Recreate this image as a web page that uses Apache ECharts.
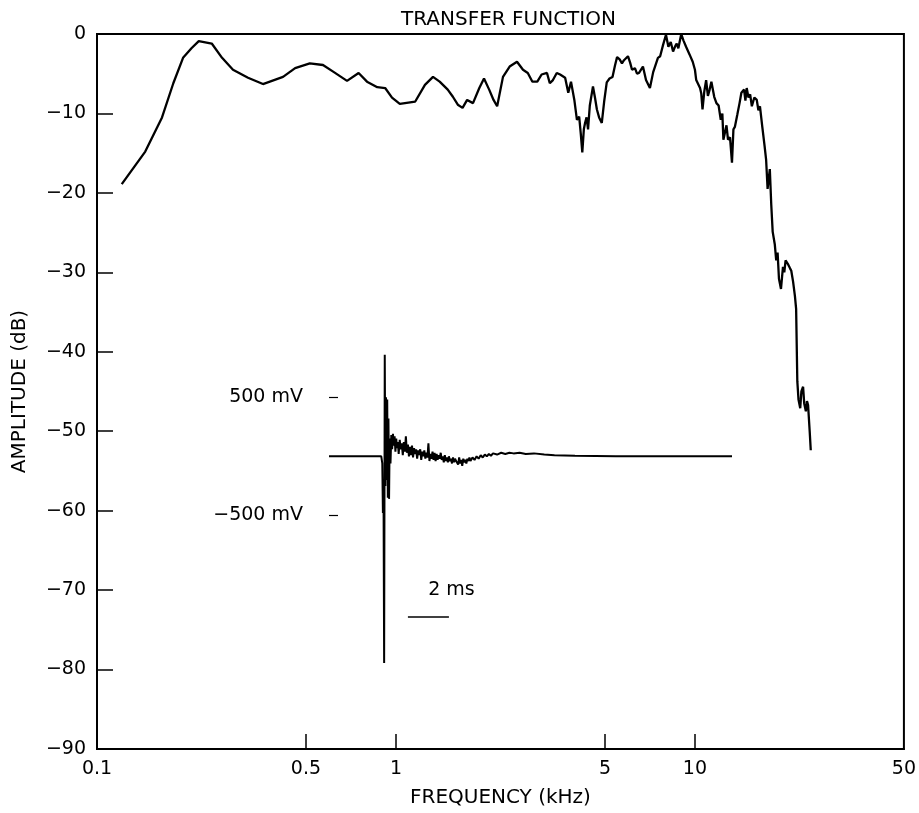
<!DOCTYPE html>
<html>
<head>
<meta charset="utf-8">
<script src="https://cdn.jsdelivr.net/npm/echarts@6.0.0/dist/echarts.min.js"></script>
<style>
  html, body { margin: 0; padding: 0; background: #fff; }
  #chart { width: 919px; height: 813px; }
</style>
</head>
<body>
<div id="chart"></div>
<script>
// transfer function: frequency (kHz) / amplitude (dB)
const freqKHz = [
  0.121, 0.145, 0.165, 0.180, 0.194, 0.207, 0.219, 0.242, 0.262, 0.285,
  0.320, 0.359, 0.419, 0.46, 0.515, 0.570, 0.62, 0.686, 0.75, 0.80,
  0.866, 0.92, 0.97, 1.03, 1.16, 1.25, 1.33, 1.40, 1.49, 1.55,
  1.61, 1.67, 1.73, 1.81, 1.90, 1.97, 2.05, 2.12, 2.18, 2.28,
  2.40, 2.54, 2.66, 2.76, 2.86, 2.97, 3.07, 3.20, 3.27, 3.35,
  3.45, 3.54, 3.68, 3.77, 3.85, 3.95, 4.03, 4.10, 4.15, 4.20,
  4.25, 4.29, 4.34, 4.39, 4.45, 4.56, 4.63, 4.70, 4.78, 4.88,
  4.97, 5.07, 5.18, 5.30, 5.40, 5.49, 5.60, 5.70, 5.79, 5.97,
  6.07, 6.16, 6.30, 6.40, 6.50, 6.70, 6.86, 7.07, 7.25, 7.52,
  7.65, 7.82, 8.0, 8.15, 8.30, 8.45, 8.60, 8.69, 8.80, 9.0,
  9.15, 9.34, 9.60, 9.83, 10.0, 10.1, 10.25, 10.4, 10.5, 10.6,
  10.75, 10.9, 11.05, 11.2, 11.35, 11.5, 11.6, 11.8, 12.0, 12.2,
  12.35, 12.45, 12.6, 12.75, 12.9, 13.1, 13.3, 13.45, 13.6, 13.85,
  14.1, 14.3, 14.6, 14.75, 14.9, 15.1, 15.3, 15.5, 15.8, 16.1,
  16.3, 16.5, 16.8, 17.1, 17.3, 17.5, 17.8, 18.0, 18.2, 18.5,
  18.7, 18.9, 19.1, 19.4, 19.7, 19.9, 20.1, 20.5, 20.8, 21.0,
  21.3, 21.6, 21.8, 22.0, 22.2, 22.5, 22.7, 23.0, 23.2, 23.5,
  23.7, 23.9, 24.2, 24.4
];
const amplitudeDb = [
  -18.9, -14.8, -10.5, -6.2, -3.0, -1.8, -0.9, -1.2, -3.0, -4.5,
  -5.5, -6.3, -5.4, -4.3, -3.7, -3.9, -4.8, -5.9, -4.9, -6.0,
  -6.7, -6.8, -8.0, -8.8, -8.5, -6.4, -5.4, -6.0, -7.0, -7.9,
  -8.9, -9.3, -8.3, -8.7, -6.8, -5.6, -7.0, -8.3, -9.1, -5.4,
  -4.1, -3.5, -4.5, -4.9, -6.0, -6.0, -5.1, -4.9, -6.2, -5.8,
  -4.9, -5.1, -5.5, -7.4, -6.0, -8.3, -10.8, -10.4, -12.5, -14.9,
  -12.0, -11.2, -10.5, -12.0, -9.0, -6.6, -8.0, -9.5, -10.5, -11.2,
  -8.5, -6.1, -5.6, -5.4, -4.0, -2.9, -3.2, -3.7, -3.3, -2.8,
  -3.6, -4.5, -4.3, -5.0, -4.9, -4.1, -5.8, -6.8, -4.8, -3.0,
  -2.8, -1.4, -0.1, -1.6, -1.0, -2.2, -1.5, -1.2, -1.8, 0,
  -0.8, -1.6, -2.6, -3.5, -4.5, -5.8, -6.0, -6.8, -7.5, -9.5,
  -7.2, -5.8, -7.8, -7.0, -6.0, -6.1, -7.9, -8.7, -9.0, -10.8,
  -10.0, -13.3, -12.4, -11.5, -13.3, -13.0, -16.2, -12.0, -11.7, -10.2,
  -8.7, -7.4, -7.0, -8.4, -6.8, -8.0, -7.6, -9.1, -8.0, -8.3,
  -9.6, -9.1, -11.7, -14.1, -15.8, -19.5, -17.0, -21.5, -24.9, -26.5,
  -28.5, -27.5, -30.8, -32.1, -29.3, -30.0, -28.5, -29.0, -29.5, -29.8,
  -31.2, -33.0, -34.6, -43.7, -46.0, -47.1, -45.0, -44.4, -46.5, -47.5,
  -46.2, -46.7, -50.0, -52.4
];

// inset impulse response: time (ms) / voltage (mV)
const impulseMs = [
  0, 2.55, 2.60, 2.63, 2.66, 2.69, 2.72, 2.75, 2.78, 2.81,
  2.84, 2.87, 2.90, 2.93, 2.96, 3.00, 3.04, 3.08, 3.12, 3.16,
  3.20, 3.24, 3.28, 3.32, 3.36, 3.40, 3.45, 3.50, 3.55, 3.60,
  3.65, 3.70, 3.75, 3.80, 3.85, 3.90, 3.95, 4.00, 4.05, 4.10,
  4.15, 4.20, 4.25, 4.30, 4.35, 4.40, 4.45, 4.50, 4.55, 4.60,
  4.65, 4.70, 4.75, 4.80, 4.85, 4.90, 4.95, 5.00, 5.05, 5.10,
  5.15, 5.20, 5.25, 5.30, 5.35, 5.40, 5.45, 5.50, 5.55, 5.60,
  5.65, 5.70, 5.75, 5.80, 5.85, 5.90, 5.95, 6.00, 6.05, 6.10,
  6.15, 6.20, 6.25, 6.30, 6.35, 6.40, 6.45, 6.50, 6.55, 6.60,
  6.65, 6.70, 6.75, 6.80, 6.85, 6.90, 7.0, 7.1, 7.2, 7.3,
  7.4, 7.5, 7.6, 7.7, 7.8, 7.9, 8.0, 8.2, 8.4, 8.6,
  8.8, 9.0, 9.3, 9.6, 10.0, 10.5, 11.0, 12.0, 13.0, 14.0,
  19.66
];
const impulseMv = [
  0, 0, -60, -480, -300, -1750, 860, -250, 500, -200,
  480, -350, 320, -360, 150, -60, 180, 60, 190, 90,
  170, 40, 150, 70, 120, 20, 140, 60, 110, 10,
  120, 40, 170, 30, 100, 0, 80, 10, 90, -10,
  70, 20, 60, -20, 50, 10, 60, -30, 40, 0,
  50, -20, 30, -10, 110, -40, 20, -20, 40, -30,
  30, -40, 20, -30, 10, -20, 30, -30, 0, -50,
  10, -40, -10, -50, 0, -40, -20, -60, -10, -50,
  -20, -40, -30, -70, -10, -60, -30, -80, -20, -50,
  -30, -60, -20, -40, -10, -40, -10, -30, 0, -20,
  10, -10, 15, 0, 20, 5, 25, 15, 30, 20,
  30, 25, 30, 20, 25, 15, 10, 5, 3, 0,
  0
];

// axis ticks and labels
const freqTicks = [0.5, 1, 5, 10];
const freqLabels = [0.1, 0.5, 1, 5, 10, 50];
const voltLabels = [-500, 500];
// 2 ms time scale bar, drawn in the inset's own coordinates
const scaleBarMs = [3.85, 5.85];
const scaleBarMv = -1356;

const font = 'DejaVu Sans';
const minus = s => String(s).replace('-', '\u2212');

const chart = echarts.init(document.getElementById('chart'));
const option = {
  animation: false,
  backgroundColor: '#fff',
  title: {
    text: 'TRANSFER FUNCTION',
    left: 396,
    top: 5,
    textStyle: { fontFamily: font, fontSize: 20, fontWeight: 'normal', color: '#000' }
  },
  grid: [
    { left: 97, right: 15, top: 34, bottom: 61, show: true, borderColor: '#000', borderWidth: 2 },
    { left: 329, right: 187, top: 350, bottom: 144 }
  ],
  xAxis: [
    {
      type: 'log',
      logBase: 10,
      min: 0.1,
      max: 50,
      gridIndex: 0,
      name: 'FREQUENCY (kHz)',
      nameLocation: 'middle',
      nameGap: 39,
      nameTextStyle: { fontFamily: font, fontSize: 20, color: '#000' },
      axisLine: { onZero: false, lineStyle: { color: '#000', width: 2 } },
      axisTick: { inside: true, length: 15, customValues: freqTicks, lineStyle: { color: '#000', width: 1.5 } },
      minorTick: { show: false },
      splitLine: { show: false },
      axisLabel: {
        customValues: freqLabels,
        color: '#000',
        fontFamily: font,
        fontSize: 19,
        margin: 11,
        formatter: v => String(+(+v).toPrecision(3))
      }
    },
    { type: 'value', gridIndex: 1, min: 0, max: 19.66, show: false }
  ],
  yAxis: [
    {
      type: 'value',
      gridIndex: 0,
      min: -90,
      max: 0,
      interval: 10,
      name: 'AMPLITUDE (dB)',
      nameLocation: 'middle',
      nameGap: 67,
      nameTextStyle: { fontFamily: font, fontSize: 20, color: '#000' },
      axisLine: { onZero: false, lineStyle: { color: '#000', width: 2 } },
      axisTick: { inside: true, length: 16, lineStyle: { color: '#000', width: 1.5 } },
      splitLine: { show: false },
      axisLabel: { color: '#000', fontFamily: font, fontSize: 19, margin: 11, formatter: minus }
    },
    {
      type: 'value',
      gridIndex: 1,
      min: -1800,
      max: 900,
      axisLine: { show: false, onZero: false },
      axisTick: { inside: true, length: 9, customValues: voltLabels, lineStyle: { color: '#000', width: 1.2 } },
      splitLine: { show: false },
      axisLabel: {
        customValues: voltLabels,
        color: '#000',
        fontFamily: font,
        fontSize: 19,
        margin: 26,
        formatter: v => minus(v) + ' mV'
      }
    }
  ],
  series: [
    {
      type: 'line',
      xAxisIndex: 0,
      yAxisIndex: 0,
      data: freqKHz.map((f, i) => [f, amplitudeDb[i]]),
      showSymbol: false,
      lineStyle: { color: '#000', width: 2.3 }
    },
    {
      type: 'line',
      xAxisIndex: 1,
      yAxisIndex: 1,
      data: impulseMs.map((t, i) => [t, impulseMv[i]]),
      showSymbol: false,
      clip: false,
      lineStyle: { color: '#000', width: 2 },
      markLine: {
        silent: true,
        symbol: 'none',
        lineStyle: { color: '#000', width: 1.5, type: 'solid' },
        label: {
          show: true,
          position: 'middle',
          formatter: '2 ms',
          color: '#000',
          fontFamily: font,
          fontSize: 19,
          padding: [0, 0, 12, 46]
        },
        data: [[
          { coord: [scaleBarMs[0], scaleBarMv] },
          { coord: [scaleBarMs[1], scaleBarMv] }
        ]]
      }
    }
  ]
};
chart.setOption(option);
</script>
</body>
</html>
